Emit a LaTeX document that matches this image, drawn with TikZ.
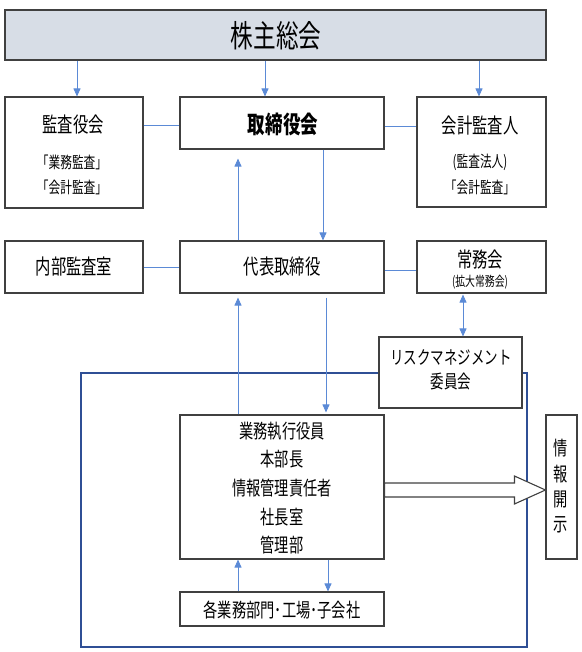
\documentclass[tikz,border=0pt]{standalone}
\usepackage{fontspec}
\setmainfont[FakeStretch=0.73]{Noto Sans CJK JP}
\usetikzlibrary{arrows.meta,calc}
\definecolor{linkblue}{HTML}{5B8AD6}
\definecolor{frameblue}{HTML}{2F4F95}
\definecolor{boxgray}{HTML}{404040}
\definecolor{topfill}{HTML}{D7DDE6}
\tikzset{
  box/.style={draw=boxgray, line width=1.1pt, fill=white, minimum width=#1, inner sep=0pt},
  lbl/.style={inner sep=0pt, font=\fontsize{21}{23}\selectfont},
  mid/.style={inner sep=0pt, font=\fontsize{19.5}{21}\selectfont},
  sub/.style={inner sep=0pt, font=\fontsize{16}{18}\selectfont},
  arr/.style={draw=linkblue, line width=0.9pt, -{Triangle[length=8pt,width=7pt]}},
  darr/.style={draw=linkblue, line width=0.9pt, {Triangle[length=8pt,width=7pt]}-{Triangle[length=8pt,width=7pt]}},
  lnk/.style={draw=linkblue, line width=0.9pt},
}
\begin{document}
\begin{tikzpicture}[x=1pt,y=-1pt]
\useasboundingbox (0,0) rectangle (581,652);
% frame
\draw[frameblue, line width=1.5pt] (81,373) rectangle (527,647);
% boxes
\node[box=541pt, minimum height=50pt, fill=topfill] (kabu) at (275.5,35) {};
\node[inner sep=0pt, font=\fontsize{31}{33}\selectfont] (kabuT) at (276,36) {株主総会};
\node[box=138pt, minimum height=111pt] (kansa) at (74,152.5) {};
\node[lbl] (kansaT1) at (73,125) {監査役会};
\node[sub] (kansaT2) at (72,162) {「業務監査」};
\node[sub] (kansaT3) at (72,187) {「会計監査」};
\node[box=204pt, minimum height=52pt] (tori) at (282,123) {};
\node[inner sep=0pt, font=\fontsize{24}{26}\selectfont\bfseries] (toriT) at (283,124) {取締役会};
\node[box=129pt, minimum height=110pt] (kaikei) at (481.5,152) {};
\node[lbl] (kaikeiT1) at (480,126) {会計監査人};
\node[sub] (kaikeiT2) at (480,162) {(監査法人)};
\node[sub] (kaikeiT3) at (480,187) {「会計監査」};
\node[box=138pt, minimum height=52pt] (naibu) at (74,267) {};
\node[lbl] (naibuT) at (74,267) {内部監査室};
\node[box=204pt, minimum height=52pt] (dai) at (282,267) {};
\node[lbl] (daiT) at (282,267) {代表取締役};
\node[box=129pt, minimum height=52pt] (jomu) at (481.5,267) {};
\node[lbl] (jomuT1) at (480,260) {常務会};
\node[inner sep=0pt, font=\fontsize{13.5}{15}\selectfont] (jomuT2) at (480,282) {(拡大常務会)};
\node[box=143pt, minimum height=71pt] (risk) at (450.5,372.5) {};
\node[inner sep=0pt, font=\fontsize{18.5}{20}\selectfont] (riskT1) at (451,357) {リスクマネジメント};
\node[inner sep=0pt, font=\fontsize{18.5}{20}\selectfont] (riskT2) at (451,382) {委員会};
\node[box=204pt, minimum height=144pt] (gyomu) at (282,487) {};
\node[mid] (g1) at (282,431) {業務執行役員};
\node[mid] (g2) at (282,459) {本部長};
\node[mid] (g3) at (282,488) {情報管理責任者};
\node[mid] (g4) at (282,517) {社長室};
\node[mid] (g5) at (282,545) {管理部};
\node[box=204pt, minimum height=34pt] (kaku) at (282,609) {};
\node[mid] (kakuT) at (282,610) {各業務部門･工場･子会社};
\node[box=31pt, minimum height=144pt] (joho) at (561.5,487) {};
\node[mid] (j1) at (561,448) {情};
\node[mid] (j2) at (561,474) {報};
\node[mid] (j3) at (561,500) {開};
\node[mid] (j4) at (561,525) {示};
% x positions of vertical connectors
\coordinate (x1) at (77,0);
\coordinate (x2) at (265,0);
\coordinate (x3) at (479,0);
\coordinate (xu) at (238,0);
\coordinate (xd1) at (323,0);
\coordinate (xd2) at (326,0);
\coordinate (xd3) at (328,0);
\coordinate (xr) at (463,0);
% arrows from top
\draw[arr] (kabu.south -| x1) -- (kansa.north -| x1);
\draw[arr] (kabu.south -| x2) -- (tori.north -| x2);
\draw[arr] (kabu.south -| x3) -- (kaikei.north -| x3);
% horizontal links
\draw[lnk] (kansa.east |- 0,125) -- (tori.west |- 0,125);
\draw[lnk] (tori.east |- 0,126) -- (kaikei.west |- 0,126);
\draw[lnk] (naibu.east) -- (dai.west);
\draw[lnk] (dai.east |- 0,270) -- (jomu.west |- 0,270);
% vertical arrows
\draw[arr, shorten >=9pt] (dai.north -| xu) -- (tori.south -| xu);
\draw[arr] (tori.south -| xd1) -- (dai.north -| xd1);
\draw[arr, shorten >=4pt] (gyomu.north -| xu) -- (dai.south -| xu);
\draw[arr, shorten <=4pt, shorten >=2pt] (dai.south -| xd2) -- (gyomu.north -| xd2);
\draw[darr, shorten <=1pt] (jomu.south -| xr) -- (risk.north -| xr);
\draw[arr] (kaku.north -| xu) -- (gyomu.south -| xu);
\draw[arr] (gyomu.south -| xd3) -- (kaku.north -| xd3);
% block arrow to disclosure
\draw[boxgray, line width=1.1pt, fill=white]
  ($(gyomu.east)+(0,-4)$) -- ($(joho.west |- gyomu.east)+(-31,-4)$)
  -- ($(joho.west |- gyomu.east)+(-31,-11)$) -- ($(joho.west |- gyomu.east)+(0,3)$)
  -- ($(joho.west |- gyomu.east)+(-31,17)$) -- ($(joho.west |- gyomu.east)+(-31,10)$)
  -- ($(gyomu.east)+(0,10)$) -- cycle;
\end{tikzpicture}
\end{document}
